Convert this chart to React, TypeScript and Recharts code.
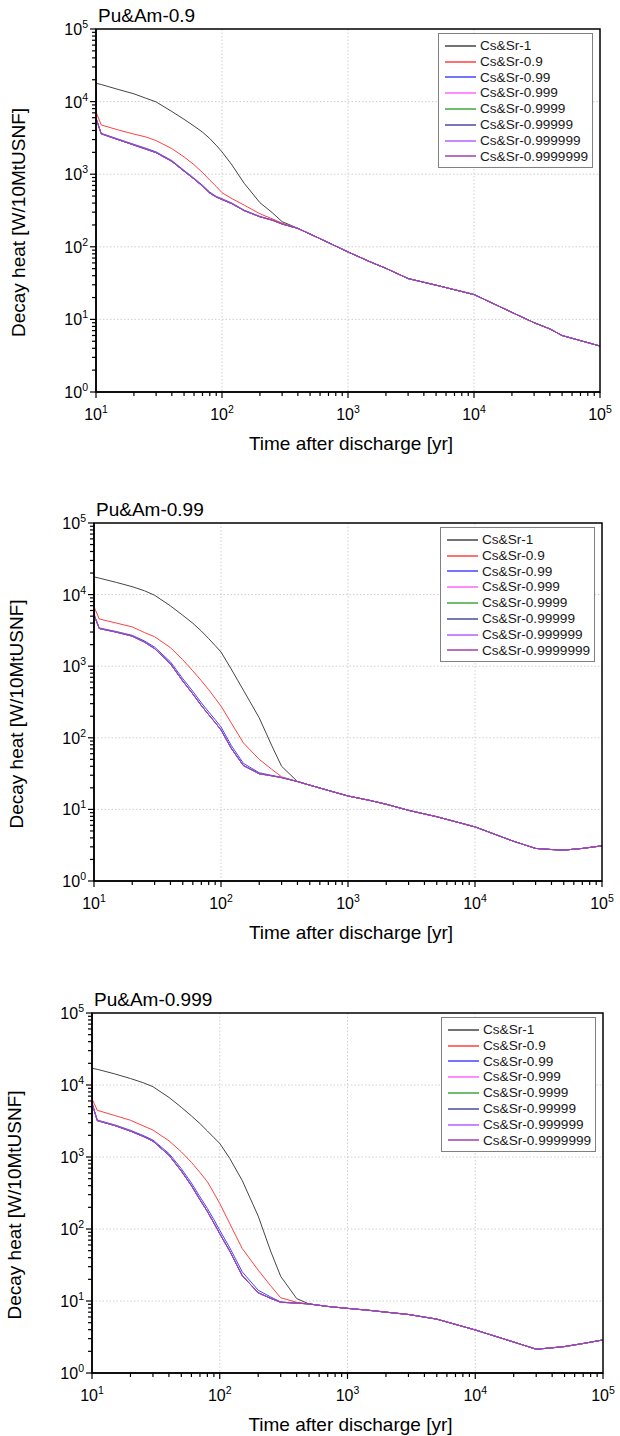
import React from "react";
import { LineChart, Line, XAxis, YAxis, CartesianGrid, Legend } from "recharts";

const FONT = "Arial, 'Liberation Sans', sans-serif";

// time after discharge [yr]; the first 20 points hold each curve, the rest is the common tail
const TIME = [10, 10.1, 11, 15, 20, 25, 30, 40, 50, 60, 70, 80, 90, 100, 120, 150, 200, 250, 300, 400,
  500, 700, 1000, 1500, 2000, 3000, 5000, 10000, 20000, 30000, 40000, 50000, 70000, 100000];

const SERIES_NAMES = ["Cs&Sr-1", "Cs&Sr-0.9", "Cs&Sr-0.99", "Cs&Sr-0.999", "Cs&Sr-0.9999",
  "Cs&Sr-0.99999", "Cs&Sr-0.999999", "Cs&Sr-0.9999999"];
const SERIES_COLORS = ["#454545", "#ff4040", "#4545ff", "#ff66ff", "#3fa83f", "#4a4aa6", "#b060ff", "#a63fa8"];

// Pu&Am-0.9
const P1_CS1 = [17900, 17800, 17200, 14700, 12800, 11100, 9900, 7300, 5700, 4600, 3800, 3100, 2500, 2030, 1340, 750, 405, 296, 222, 180];
const P1_CS09 = [7200, 6900, 4770, 4070, 3570, 3250, 2900, 2250, 1730, 1350, 1055, 830, 678, 556, 460, 375, 285, 243, 212, 179];
const P1_CS099 = [14500, 5600, 3660, 3050, 2580, 2270, 2030, 1540, 1130, 880, 705, 567, 495, 459, 400, 320, 262, 235, 207, 179];
const P1_LOW = [14500, 5600, 3600, 2990, 2520, 2210, 1980, 1500, 1100, 860, 685, 550, 485, 448, 392, 315, 259, 233, 206, 179];
const P1_TAIL = [150, 114, 85, 62, 50.5, 36.5, 29.6, 22, 12.5, 9.0, 7.4, 6.0, 5.1, 4.3];

// Pu&Am-0.99
const P2_CS1 = [17700, 17600, 17000, 14800, 12900, 11300, 9800, 6950, 5140, 3980, 3100, 2430, 1940, 1580, 922, 463, 190, 79, 40, 24.5];
const P2_CS09 = [7000, 6500, 4570, 4000, 3540, 2950, 2580, 1815, 1230, 860, 627, 469, 356, 277, 163, 85, 50, 36.5, 28.5, 24.5];
const P2_CS099 = [14600, 5000, 3420, 3050, 2700, 2250, 1850, 1150, 670, 446, 308, 230, 179, 142, 79, 44, 32.5, 29.9, 28, 24.5];
const P2_LOW = [14600, 5000, 3360, 2990, 2630, 2170, 1760, 1080, 620, 410, 282, 210, 163, 129, 72, 41, 31.5, 29.5, 27.8, 24.5];
const P2_TAIL = [21.8, 18.4, 15.4, 13.3, 11.8, 9.7, 7.9, 5.7, 3.6, 2.85, 2.75, 2.7, 2.85, 3.1];

// Pu&Am-0.999
const P3_CS1 = [17100, 17000, 16500, 14300, 12300, 10800, 9480, 6730, 4910, 3720, 2910, 2300, 1860, 1545, 950, 471, 151, 49.5, 22, 10.8];
const P3_CS09 = [6800, 6200, 4450, 3780, 3240, 2720, 2370, 1680, 1180, 843, 610, 453, 316, 226, 118, 53.5, 26.8, 16.3, 11.1, 9.6];
const P3_CS099 = [14500, 5270, 3260, 2800, 2350, 2000, 1720, 1120, 690, 435, 280, 193, 135, 96, 54.6, 25.4, 14.1, 11.4, 9.7, 9.35];
const P3_LOW = [14500, 5270, 3200, 2740, 2290, 1940, 1660, 1060, 640, 400, 255, 175, 121, 86, 49, 22.5, 13.0, 10.9, 9.6, 9.35];
const P3_TAIL = [9.1, 8.4, 7.9, 7.4, 7.0, 6.5, 5.6, 3.96, 2.69, 2.14, 2.24, 2.33, 2.57, 2.88];

const X_TICKS: number[] = [];
for (let e = 1; e <= 4; e++) for (let m = 1; m <= 9; m++) X_TICKS.push(m * Math.pow(10, e));
X_TICKS.push(100000);
const Y_TICKS: number[] = [];
for (let e = 0; e <= 4; e++) for (let m = 1; m <= 9; m++) Y_TICKS.push(m * Math.pow(10, e));
Y_TICKS.push(100000);

const PANELS = [
  { title: "Pu&Am-0.9", top: 0, l: 96, r: 600, t: 29, b: 392,
    heads: [P1_CS1, P1_CS09, P1_CS099, P1_LOW, P1_LOW, P1_LOW, P1_LOW, P1_LOW], tail: P1_TAIL },
  { title: "Pu&Am-0.99", top: 490, l: 94, r: 602, t: 523, b: 881,
    heads: [P2_CS1, P2_CS09, P2_CS099, P2_LOW, P2_LOW, P2_LOW, P2_LOW, P2_LOW], tail: P2_TAIL },
  { title: "Pu&Am-0.999", top: 956, l: 92, r: 603, t: 1013, b: 1373,
    heads: [P3_CS1, P3_CS09, P3_CS099, P3_LOW, P3_LOW, P3_LOW, P3_LOW, P3_LOW], tail: P3_TAIL },
];

const CHART_H = 480;
const X_AXIS_H = 30;
const Y_AXIS_W = 60;
const TICK_SIZE = 6;
const TICK_MARGIN = 2;

function buildRows(heads: number[][], tail: number[]) {
  return TIME.map((t, i) => {
    const row: any = { t };
    heads.forEach((h, k) => {
      row["s" + k] = i < h.length ? h[i] : tail[i - h.length];
    });
    return row;
  });
}

const XTick = (props: any) => {
  const { x, y, payload } = props;
  const s = String(payload.value);
  const major = /^10*$/.test(s);
  const ay = y - TICK_SIZE - TICK_MARGIN;
  return (
    <g>
      <line x1={x} x2={x} y1={ay} y2={ay + (major ? 6 : 4)} stroke="#000" strokeWidth={1.2} />
      {major && (
        <text x={x} y={ay + 28} textAnchor="middle" fontFamily={FONT} fontSize={16} fill="#000">
          10<tspan dy={-7} fontSize={10.5}>{s.length - 1}</tspan>
        </text>
      )}
    </g>
  );
};

const YTick = (props: any) => {
  const { x, y, payload } = props;
  const s = String(payload.value);
  const major = /^10*$/.test(s);
  const ax = x + TICK_SIZE + TICK_MARGIN;
  return (
    <g>
      <line x1={ax} x2={ax - (major ? 6 : 4)} y1={y} y2={y} stroke="#000" strokeWidth={1.2} />
      {major && (
        <text x={ax - 8} y={y + 6} textAnchor="end" fontFamily={FONT} fontSize={16} fill="#000">
          10<tspan dy={-7} fontSize={10.5}>{s.length - 1}</tspan>
        </text>
      )}
    </g>
  );
};

const LegendBox = () => (
  <div style={{
    border: "1px solid #808080",
    background: "#fff",
    padding: "4px 0 3px 6px",
    boxSizing: "border-box",
    fontFamily: FONT,
    fontSize: 13.6,
    color: "#1a1a1a",
  }}>
    {SERIES_NAMES.map((name, k) => (
      <div key={name} style={{ display: "flex", alignItems: "center", height: 15.8 }}>
        <svg width={31} height={4} style={{ marginRight: 4, flex: "none" }}>
          <line x1={0} x2={31} y1={2} y2={2} stroke={SERIES_COLORS[k]} strokeWidth={1.5} />
        </svg>
        <span style={{ lineHeight: "15.8px", whiteSpace: "nowrap" }}>{name}</span>
      </div>
    ))}
  </div>
);

function Panel({ p }: { p: typeof PANELS[number] }) {
  const rows = buildRows(p.heads, p.tail);
  return (
    <div style={{ position: "absolute", left: 0, top: p.top }}>
      <LineChart
        width={620}
        height={CHART_H}
        data={rows}
        margin={{ top: p.t - p.top, right: 620 - p.r, bottom: p.top + CHART_H - p.b - X_AXIS_H, left: p.l - Y_AXIS_W }}
      >
        <CartesianGrid
          stroke="#cfcfcf"
          strokeDasharray="1.5 2"
          horizontalValues={[10, 100, 1000, 10000]}
          verticalValues={[100, 1000, 10000]}
        />
        <XAxis
          dataKey="t"
          type="number"
          scale="log"
          domain={[10, 100000]}
          ticks={X_TICKS}
          interval={0}
          allowDataOverflow
          height={X_AXIS_H}
          tickSize={TICK_SIZE}
          tickMargin={TICK_MARGIN}
          tickLine={false}
          axisLine={{ stroke: "#000", strokeWidth: 1.5 }}
          tick={(props: any) => <XTick {...props} />}
        />
        <YAxis
          type="number"
          scale="log"
          domain={[1, 100000]}
          ticks={Y_TICKS}
          interval={0}
          allowDataOverflow
          width={Y_AXIS_W}
          tickSize={TICK_SIZE}
          tickMargin={TICK_MARGIN}
          tickLine={false}
          axisLine={{ stroke: "#000", strokeWidth: 1.5 }}
          tick={(props: any) => <YTick {...props} />}
        />
        {SERIES_NAMES.map((name, k) => (
          <Line
            key={name}
            dataKey={"s" + k}
            name={name}
            type="linear"
            stroke={SERIES_COLORS[k]}
            strokeWidth={1}
            dot={false}
            activeDot={false}
            isAnimationActive={false}
          />
        ))}
        <Legend
          layout="vertical"
          align="center"
          verticalAlign="middle"
          content={<LegendBox />}
          wrapperStyle={{ left: p.r - 162, top: p.t - p.top + 4, width: 155 }}
        />
      </LineChart>
    </div>
  );
}

export default function App() {
  return (
    <div style={{ position: "absolute", left: 0, top: 0, width: 620, height: 1436, background: "#fff" }}>
      {PANELS.map((p) => <Panel key={p.title} p={p} />)}
      <svg width={620} height={1436} style={{ position: "absolute", left: 0, top: 0, pointerEvents: "none" }}>
        {PANELS.map((p) => (
          <g key={p.title} fontFamily={FONT} fill="#000">
            <rect x={p.l} y={p.t} width={p.r - p.l} height={p.b - p.t} fill="none" stroke="#000" strokeWidth={1.5} />
            <text x={p.l + 2} y={p.t - 7} fontSize={19}>{p.title}</text>
            <text
              transform={`translate(${p.l - 71}, ${(p.t + p.b) / 2 + 12}) rotate(-90)`}
              textAnchor="middle"
              fontSize={19}
            >
              Decay heat [W/10MtUSNF]
            </text>
            <text x={(p.l + p.r) / 2 + 3} y={p.b + 58} textAnchor="middle" fontSize={19}>
              Time after discharge [yr]
            </text>
          </g>
        ))}
      </svg>
    </div>
  );
}
